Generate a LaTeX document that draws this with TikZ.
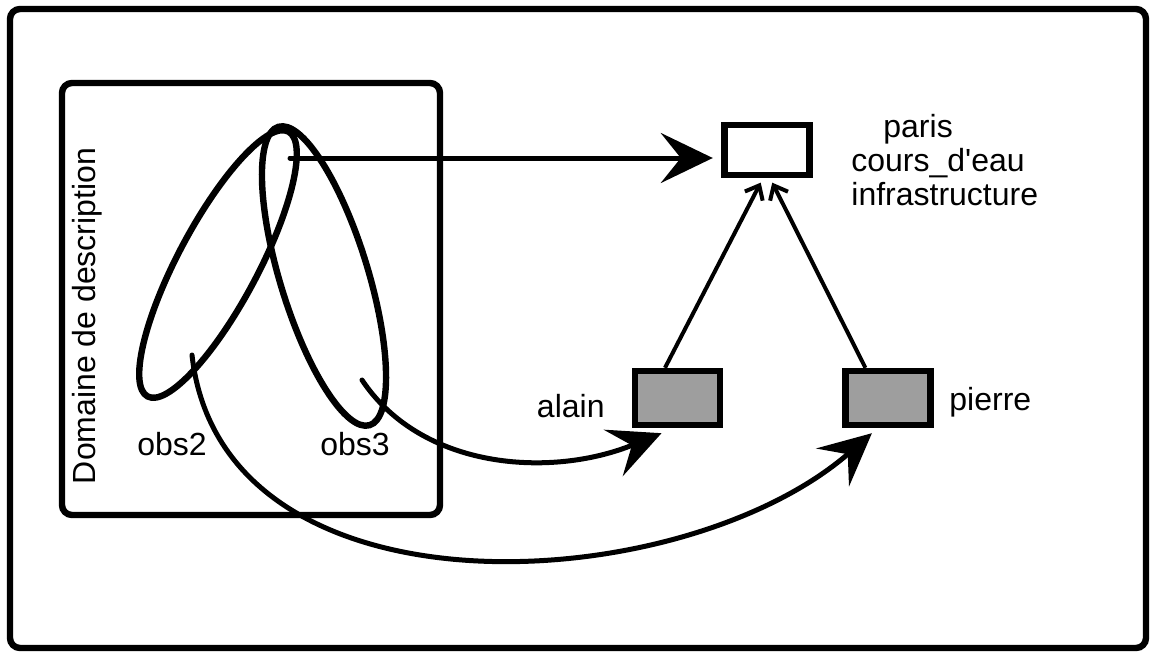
\documentclass[tikz,border=0pt]{standalone}
\usepackage{fontspec}
\newfontfamily\labelfont{Liberation Sans}
\usetikzlibrary{positioning,arrows.meta,shapes.geometric}
\tikzset{
  framebox/.style={draw, line width=3.2pt, rounded corners=5pt},
  obsloop/.style={ellipse, draw, line width=3.2pt, inner sep=0pt},
  classbox/.style={rectangle, draw, line width=3.2pt, minimum width=42.5pt, minimum height=25pt, inner sep=0pt},
  instbox/.style={classbox, fill=black!38, minimum height=27pt},
  lbl/.style={font=\labelfont\fontsize{16}{17}\selectfont, inner sep=0pt},
  bigarrow/.style={-{Stealth[length=26pt,width=25pt,inset=10pt]}, line width=2.5pt, line cap=round},
  isa/.style={-{Straight Barb[length=6pt,width=10pt]}, line width=2pt, shorten >=2.5pt},
}
\begin{document}
\begin{tikzpicture}[x=0.5pt, y=-0.5pt]
\useasboundingbox (0,0) rectangle (1151,653);
%Frames
\draw[framebox] (10,9) rectangle (1146,648);
\draw[framebox] (62,83) rectangle (440,515);
\node[lbl, rotate=90] (domain) at (87,316) {Domaine de description};

%Nodes
\node[obsloop, minimum width=150pt, minimum height=40pt, rotate=62] (loop2) at (218,264) {};
\node[obsloop, minimum width=156pt, minimum height=44pt, rotate=-73] (loop3) at (324,276) {};
\node[classbox] (concept) at (767,150) {};
\node[instbox] (alain) at (677.5,398) {};
\node[instbox] (pierre) [right=59.5pt of alain] {};

%Labels
\node[lbl, anchor=base west] (obs2lbl) at (137,455) {obs2};
\node[lbl, anchor=base west] (obs3lbl) at (320,455) {obs3};
\node[lbl, anchor=base east] (alainlbl) at (605,417) {alain};
\node[lbl, anchor=base west] (pierrelbl) at (949,410) {pierre};
\node[lbl, anchor=base west] (parislbl) at (883,137) {paris};
\node[lbl, anchor=base west] (courslbl) at (851,171) {cours\_d'eau};
\node[lbl, anchor=base west] (infralbl) at (851,205) {infrastructure};

%Lines
\coordinate (s1) at (290,158);
\coordinate (s2) at (192,355);
\coordinate (s3) at (362,380);
\draw[bigarrow, shorten >=4.25pt] (s1) -- ([yshift=-4pt]concept.west);
\draw[isa] ([xshift=-6.25pt]alain.north) -- ([xshift=-2pt]concept.south);
\draw[isa] ([xshift=-11.25pt]pierre.north) -- ([xshift=1.5pt]concept.south);
\draw[bigarrow] (s3) .. controls +(60,90) and +(-110,45) .. ([xshift=-8pt,yshift=-2.5pt]alain.south);
\draw[bigarrow] (s2) .. controls +(30,270) and +(-192,167) .. ([xshift=-8pt,yshift=-2.5pt]pierre.south);
\end{tikzpicture}
\end{document}
